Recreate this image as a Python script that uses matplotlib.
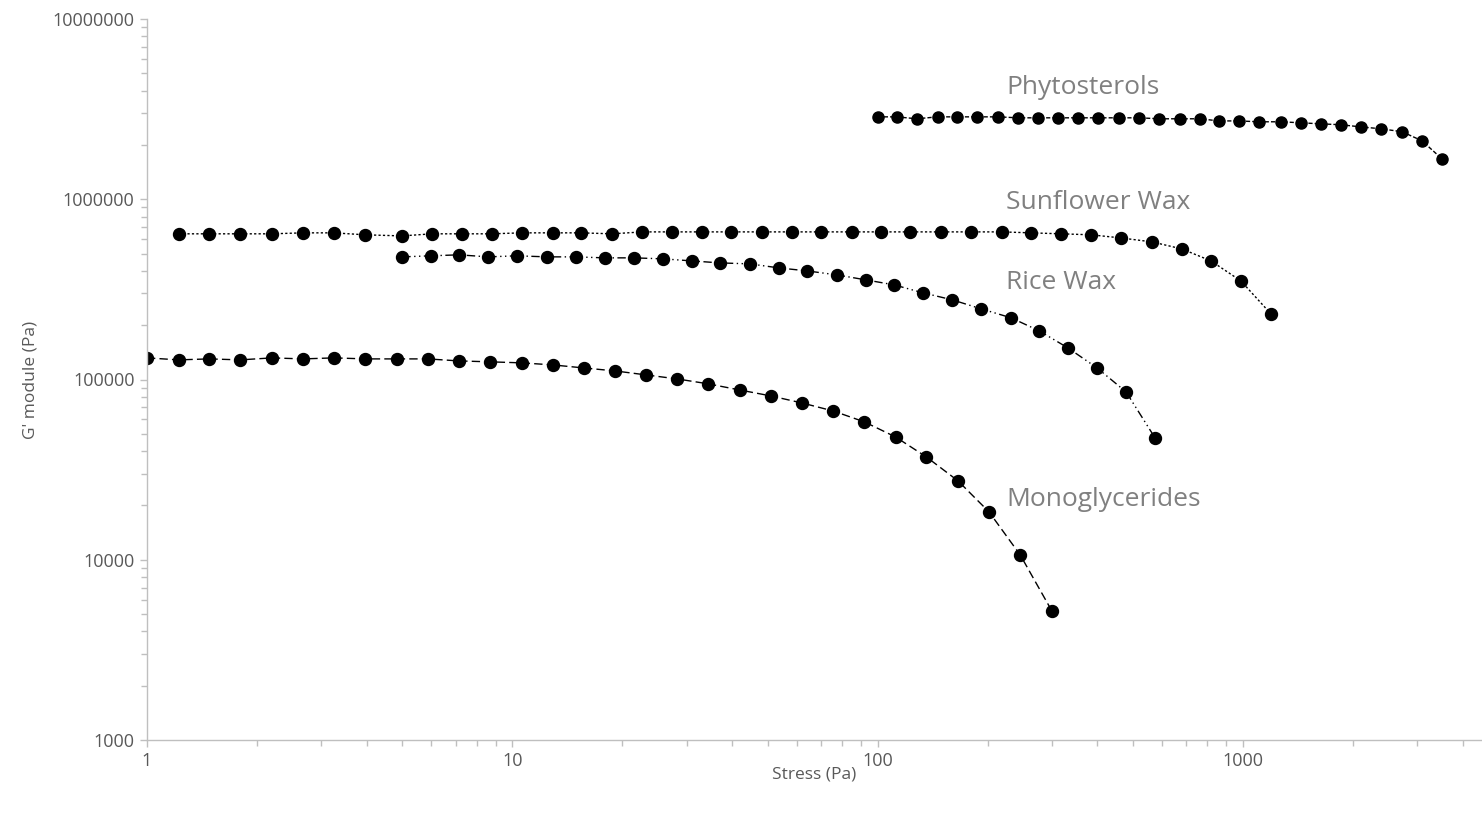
import matplotlib
matplotlib.use("Agg")
import matplotlib.pyplot as plt
from matplotlib.ticker import LogLocator, FixedLocator, FixedFormatter, NullFormatter

plt.rcParams['font.family'] = ['Open Sans', 'DejaVu Sans']

# ---------------- data ----------------
mono_x = [1.0, 1.22, 1.48, 1.80, 2.20, 2.67, 3.25, 3.96, 4.82, 5.87, 7.14, 8.70,
          10.6, 12.9, 15.7, 19.1, 23.2, 28.3, 34.4, 41.9, 51.0, 62.1, 75.6, 92.0,
          112, 136, 166, 202, 246, 300]
mono_y = [131800, 128500, 130100, 128500, 131800, 130100, 131800, 130100, 130100, 130100,
          126800, 125300, 123700, 120500, 115900, 111600, 106100, 100700, 94600, 87500,
          81100, 74100, 66900, 58200, 48000, 37200, 27400, 18400, 10600, 5200]

sun_x = [1.22, 1.48, 1.80, 2.20, 2.67, 3.25, 3.95, 4.99, 6.03, 7.29, 8.80, 10.6,
         12.9, 15.4, 18.8, 22.7, 27.4, 33.1, 39.7, 48.3, 58.3, 70.0, 85.1, 102,
         123, 149, 180, 219, 263, 318, 384, 464, 564, 681, 818, 988, 1194]
sun_y = [643000, 643000, 643000, 643000, 651000, 651000, 635000, 626000, 643000, 643000,
         643000, 651000, 651000, 651000, 643000, 659000, 659000, 659000, 659000, 659000,
         659000, 659000, 659000, 659000, 659000, 659000, 659000, 659000, 651000, 643000,
         635000, 610000, 580000, 530000, 455000, 352000, 231000]

rice_x = [5.0, 5.99, 7.15, 8.58, 10.3, 12.45, 14.9, 17.9, 21.5, 25.9, 31.0, 37.0,
          44.7, 53.7, 64.1, 77.4, 92.9, 111, 133, 160, 192, 232, 277, 332, 399,
          479, 575]
rice_y = [479000, 485500, 491700, 479000, 485500, 479000, 479000, 473000, 473000, 467000,
          455000, 443500, 438000, 416000, 400500, 380500, 357000, 335000, 302700, 276800,
          246700, 219900, 186200, 149700, 115900, 85300, 47400]

phyto_x = [100, 113, 128, 146, 165, 187, 214, 242, 275, 312, 354, 401, 458, 520,
           591, 673, 763, 860, 976, 1107, 1272, 1442, 1636, 1856, 2105, 2388,
           2726, 3093, 3508]
phyto_y = [2865000, 2865000, 2795000, 2865000, 2865000, 2865000, 2865000, 2830000,
           2830000, 2830000, 2830000, 2830000, 2830000, 2830000, 2795000, 2795000,
           2795000, 2720000, 2720000, 2690000, 2690000, 2655000, 2620000, 2590000,
           2520000, 2460000, 2370000, 2110000, 1675000]

series_names = ["Phytosterols", "Sunflower Wax", "Rice Wax", "Monoglycerides"]
y_ticks = [1000, 10000, 100000, 1000000, 10000000]
y_tick_labels = ["1000", "10000", "100000", "1000000", "10000000"]
x_ticks = [1, 10, 100, 1000]
x_tick_labels = ["1", "10", "100", "1000"]

# ---------------- figure ----------------
fig = plt.figure(figsize=(14.82, 8.14), dpi=100)
ax = fig.add_axes([147 / 1482, 74 / 814, 1 - 147 / 1482, (740 - 19) / 814])

ax.set_xscale('log')
ax.set_yscale('log')
ax.set_xlim(1, 4515)
ax.set_ylim(1000, 10000000)

mk = dict(marker='o', color='black', markerfacecolor='black', markeredgecolor='black',
          linewidth=1.0)
ax.plot(mono_x, mono_y, linestyle=(0, (6, 3)), markersize=8.6, **mk)
ax.plot(rice_x, rice_y, linestyle=(0, (6, 2.5, 1, 2.5, 1, 2.5)), markersize=8.6, **mk)
ax.plot(sun_x, sun_y, linestyle=(0, (1.6, 1.6)), markersize=8.6, **mk)
ax.plot(phyto_x, phyto_y, linestyle=(0, (3, 1.5)), markersize=8.0, **mk)

label_color = '#808080'
label_pos = {"Phytosterols": (224.6, 4.15e6),
             "Sunflower Wax": (224.6, 9.55e5),
             "Rice Wax": (224.6, 3.44e5),
             "Monoglycerides": (224.6, 2.15e4)}
for name in series_names:
    x, y = label_pos[name]
    ax.text(x, y, name, color=label_color, fontsize=19, ha='left', va='center')

# spines
for s in ['top', 'right']:
    ax.spines[s].set_visible(False)
for s in ['left', 'bottom']:
    ax.spines[s].set_color('#bfbfbf')
    ax.spines[s].set_linewidth(1.0)

ax.xaxis.set_major_locator(FixedLocator(x_ticks))
ax.xaxis.set_major_formatter(FixedFormatter(x_tick_labels))
ax.xaxis.set_minor_locator(LogLocator(base=10, subs=range(2, 10), numticks=20))
ax.xaxis.set_minor_formatter(NullFormatter())
ax.yaxis.set_major_locator(FixedLocator(y_ticks))
ax.yaxis.set_major_formatter(FixedFormatter(y_tick_labels))
ax.yaxis.set_minor_locator(LogLocator(base=10, subs=range(2, 10), numticks=20))
ax.yaxis.set_minor_formatter(NullFormatter())

ax.tick_params(axis='both', which='major', direction='out', length=5, width=1,
               color='#bfbfbf', labelcolor='#595959', labelsize=13, pad=4)
ax.tick_params(axis='both', which='minor', direction='out', length=4, width=1,
               color='#bfbfbf')

ax.set_xlabel("Stress (Pa)", color='#595959', fontsize=12.5, labelpad=-3)
ax.set_ylabel("G' module (Pa)", color='#595959', fontsize=12.5, labelpad=10)

fig.savefig("out.png", dpi=100, facecolor='white')
